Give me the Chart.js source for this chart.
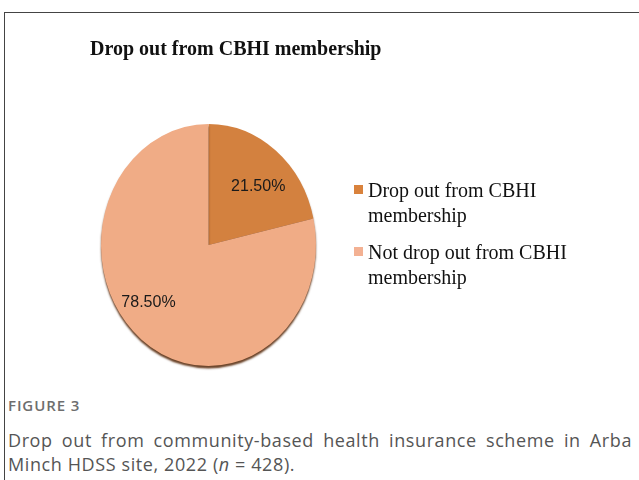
<!DOCTYPE html>
<html>
<head>
<meta charset="utf-8">
<script src="https://cdn.jsdelivr.net/npm/chart.js@4.4.0/dist/chart.umd.min.js"></script>
<style>
  html, body { margin: 0; padding: 0; background: #fff; }
  body { width: 639px; height: 480px; position: relative; overflow: hidden; }
  #frameTop { position: absolute; left: 4px; top: 12px; width: 640px; height: 0; border-top: 1.5px solid #444; }
  #frameLeft { position: absolute; left: 4px; top: 12px; width: 0; height: 480px; border-left: 1.5px solid #444; }
  #chartWrap { position: absolute; left: 0; top: 0; width: 639px; height: 380px; }
  #figLabel { position: absolute; left: 8px; top: 395px; font-family: "Open Sans", sans-serif; font-size: 15px; font-weight: 600; color: #6e6e6e; letter-spacing: 0.9px; }
  #caption { position: absolute; left: 8px; top: 428px; width: 624px; font-family: "Open Sans", sans-serif; font-size: 18px; line-height: 24px; letter-spacing: 0.6px; color: #555; text-align: justify; text-align-last: left; }
</style>
</head>
<body>
<div id="frameTop"></div>
<div id="frameLeft"></div>
<div id="chartWrap"><canvas id="c" width="639" height="380"></canvas></div>
<div id="figLabel">FIGURE 3</div>
<div id="caption">Drop out from community-based health insurance scheme in Arba Minch HDSS site, 2022 (<i>n</i> = 428).</div>
<script>
const chartTitle = "Drop out from CBHI membership";
const categories = ["Drop out from CBHI membership", "Not drop out from CBHI membership"];
const legendLines = [["Drop out from CBHI", "membership"], ["Not drop out from CBHI", "membership"]];
const values = [21.5, 78.5];
const valueLabels = ["21.50%", "78.50%"];
const sliceColors = ["#D3813F", "#F0AC86"];
const legendColors = ["#D9823C", "#F3B193"];

const stretchY = 121 / 107.5;

const ellipsePlugin = {
  id: 'ellipse',
  beforeDatasetsDraw(chart) {
    const ctx = chart.ctx;
    const a = chart.getDatasetMeta(0).data[0];
    ctx.save();
    ctx.translate(a.x, a.y);
    ctx.scale(1, stretchY);
    ctx.translate(-a.x, -a.y);
    ctx.shadowColor = 'rgba(90,45,15,0.9)';
    ctx.shadowBlur = 2;
    ctx.shadowOffsetY = 2.5;
  },
  afterDatasetsDraw(chart) {
    const ctx = chart.ctx;
    ctx.restore();
    const meta = chart.getDatasetMeta(0);
    ctx.save();
    ctx.font = '16px "Liberation Sans Narrow", "Liberation Sans", sans-serif';
    ctx.fillStyle = '#1a1a1a';
    ctx.textAlign = 'center';
    ctx.textBaseline = 'middle';
    const radial = [0.67, 0.735];
    const angleShift = [0.087, 0.187];
    meta.data.forEach((arc, i) => {
      const p = arc.getProps(['x', 'y', 'startAngle', 'endAngle', 'outerRadius'], true);
      const mid = (p.startAngle + p.endAngle) / 2 + angleShift[i];
      const r = p.outerRadius * radial[i];
      const x = p.x + Math.cos(mid) * r;
      const y = p.y + Math.sin(mid) * r * stretchY;
      ctx.fillText(valueLabels[i], x, y);
    });
    ctx.restore();
  },
  afterDraw(chart) {
    const ctx = chart.ctx;
    ctx.save();
    ctx.font = 'bold 20px "Liberation Serif", "Times New Roman", serif';
    ctx.fillStyle = '#111';
    ctx.textAlign = 'left';
    ctx.textBaseline = 'alphabetic';
    ctx.fillText(chartTitle, 90, 55);
    ctx.font = '20px "Liberation Serif", "Times New Roman", serif';
    const baselines = [[197, 222], [259, 284]];
    legendLines.forEach((lines, i) => {
      ctx.fillStyle = legendColors[i];
      ctx.fillRect(354, baselines[i][0] - 12, 9, 9);
      ctx.fillStyle = '#111';
      lines.forEach((t, j) => ctx.fillText(t, 368, baselines[i][j]));
    });
    ctx.restore();
  }
};

new Chart(document.getElementById('c'), {
  type: 'pie',
  data: {
    labels: categories,
    datasets: [{
      data: values,
      backgroundColor: sliceColors,
      borderWidth: 0
    }]
  },
  options: {
    responsive: false,
    animation: false,
    layout: { padding: { left: 101, right: 639 - 316, top: 245 - 107.5, bottom: 380 - (245 + 107.5) } },
    plugins: {
      legend: { display: false },
      title: { display: false },
      tooltip: { enabled: false }
    }
  },
  plugins: [ellipsePlugin]
});
</script>
</body>
</html>
